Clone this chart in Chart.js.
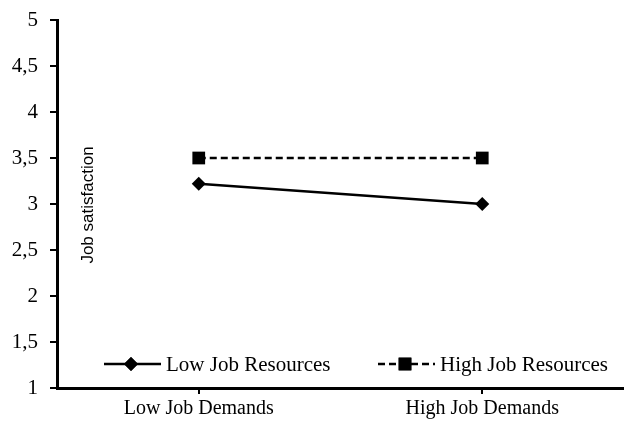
<!DOCTYPE html>
<html>
<head>
<meta charset="utf-8">
<script src="https://cdn.jsdelivr.net/npm/chart.js@4/dist/chart.umd.min.js"></script>
<style>
    html, body { margin: 0; padding: 0; background: #fff; overflow: hidden; }
    #wrap { width: 624px; height: 423px; position: relative; }
</style>
</head>
<body>
<div id="wrap"><canvas id="chart"></canvas></div>
<script>
const categories = ['Low Job Demands', 'High Job Demands'];
const lowResources = [3.22, 3.0];
const highResources = [3.5, 3.5];
const yTicks = [1, 1.5, 2, 2.5, 3, 3.5, 4, 4.5, 5];

const serif = '"Liberation Serif", "Times New Roman", serif';

// legend and axis title sit inside the plot area, so draw them by hand
const insidePlugin = {
    id: 'inside',
    afterDraw(chart) {
        const ctx = chart.ctx;
        const area = chart.chartArea;

        ctx.save();
        ctx.fillStyle = '#000';
        ctx.font = '17px "Liberation Sans", Arial, sans-serif';
        ctx.textAlign = 'center';
        ctx.textBaseline = 'middle';
        ctx.translate(area.left + 31, area.top + 185);
        ctx.rotate(-Math.PI / 2);
        ctx.fillText('Job satisfaction', 0, 0);
        ctx.restore();

        const items = [
            { ds: chart.data.datasets[0], x: 104 },
            { ds: chart.data.datasets[1], x: 378 }
        ];
        const y = area.bottom - 24;
        ctx.save();
        items.forEach(item => {
            const ds = item.ds;
            ctx.strokeStyle = '#000';
            ctx.lineWidth = 2.5;
            ctx.setLineDash(ds.borderDash || []);
            ctx.beginPath();
            ctx.moveTo(item.x, y);
            ctx.lineTo(item.x + 57, y);
            ctx.stroke();
            ctx.setLineDash([]);
            Chart.helpers.drawPoint(ctx, {
                pointStyle: ds.pointStyle,
                radius: ds.pointRadius,
                rotation: 0,
                borderWidth: 0
            }, item.x + 27, y);
            ctx.fillStyle = '#000';
            ctx.fill();
            ctx.font = '21px ' + serif;
            ctx.textAlign = 'left';
            ctx.textBaseline = 'middle';
            ctx.fillText(ds.label, item.x + 62, y + 1);
        });
        ctx.restore();
    }
};

const chartCtx = document.getElementById('chart').getContext('2d');

new Chart(chartCtx, {
    type: 'line',
    data: {
        labels: categories,
        datasets: [{
            label: 'Low Job Resources',
            data: lowResources,
            borderColor: '#000',
            backgroundColor: '#000',
            borderWidth: 2.5,
            pointStyle: 'rectRot',
            pointRadius: 7,
            pointBorderWidth: 0
        }, {
            label: 'High Job Resources',
            data: highResources,
            borderColor: '#000',
            backgroundColor: '#000',
            borderWidth: 2.5,
            borderDash: [7, 4],
            pointStyle: 'rect',
            pointRadius: 9,
            pointBorderWidth: 0
        }]
    },
    options: {
        responsive: true,
        maintainAspectRatio: false,
        animation: false,
        layout: { autoPadding: false, padding: { top: 20, right: 0, left: 0, bottom: 0 } },
        plugins: {
            legend: { display: false },
            tooltip: { enabled: false }
        },
        scales: {
            x: {
                offset: true,
                border: { color: '#000', width: 3 },
                grid: {
                    drawOnChartArea: false,
                    drawTicks: true,
                    tickLength: 6,
                    color: '#000',
                    lineWidth: 2
                },
                ticks: {
                    color: '#000',
                    font: { family: serif, size: 20 },
                    padding: 3,
                    maxRotation: 0
                },
                afterFit(scale) {
                    scale.height = 35;
                    scale.paddingLeft = 0;
                    scale.paddingRight = 0;
                }
            },
            y: {
                min: 1,
                max: 5,
                border: { color: '#000', width: 3 },
                grid: {
                    drawOnChartArea: false,
                    drawTicks: true,
                    tickLength: 7,
                    color: '#000',
                    lineWidth: 2
                },
                afterBuildTicks(scale) {
                    scale.ticks = yTicks.map(v => ({ value: v }));
                },
                ticks: {
                    color: '#000',
                    font: { family: serif, size: 21 },
                    padding: 12,
                    callback: v => String(v).replace('.', ',')
                },
                afterFit(scale) {
                    scale.width = 57;
                    scale.paddingTop = 0;
                    scale.paddingBottom = 0;
                }
            }
        }
    },
    plugins: [insidePlugin]
});
</script>
</body>
</html>
